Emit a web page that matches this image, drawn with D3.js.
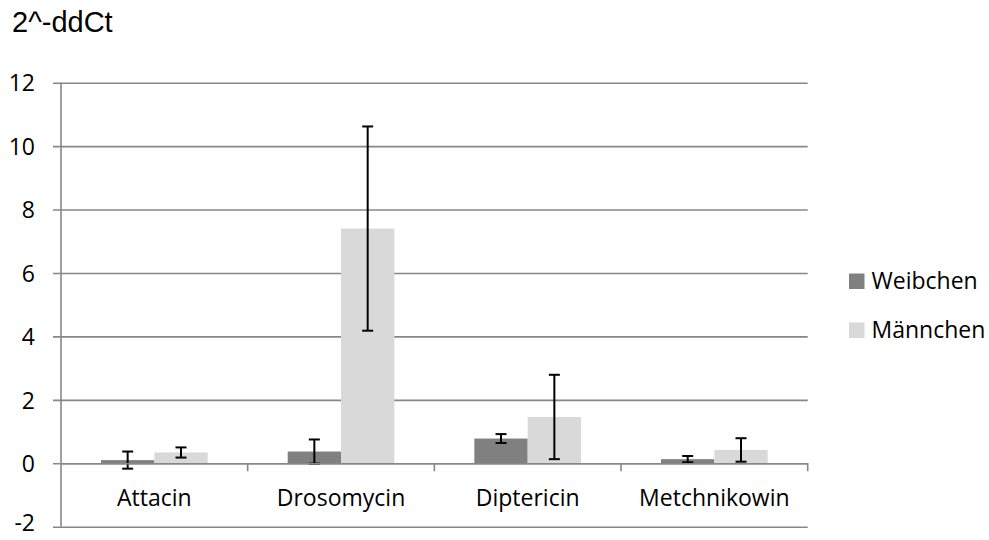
<!DOCTYPE html>
<html><head><meta charset="utf-8">
<script src="https://cdn.jsdelivr.net/npm/d3@7"></script>
<style>body{margin:0;background:#fff}svg{display:block}</style>
</head><body>
<script>
const categories = ["Attacin", "Drosomycin", "Diptericin", "Metchnikowin"];
const seriesNames = ["Weibchen", "Männchen"];
const weibchen = [0.10, 0.37, 0.78, 0.13];
const maennchen = [0.34, 7.40, 1.46, 0.42];
const weibchenErr = [0.27, 0.38, 0.14, 0.10];
const maennchenErr = [0.16, 3.22, 1.33, 0.37];
const yTicks = [-2, 0, 2, 4, 6, 8, 10, 12];
const yTitle = "2^-ddCt";

const W = 989, H = 540;
const mLeft = 61, mRight = 807.7, mTop = 82.7, mBottom = 526.7;
const colors = ["#808080", "#d9d9d9"];
const gridColor = "#878787";
const labelFont = "'Open Sans', sans-serif";
const labelSize = "23px";

const svg = d3.select("body").append("svg").attr("width", W).attr("height", H);

const y = d3.scaleLinear().domain([-2, 12]).range([mBottom, mTop]);
const x0 = d3.scaleBand().domain(categories).range([mLeft, mRight]).paddingInner(0).paddingOuter(0);
const groupW = x0.bandwidth() * (2 / 3.5);
const x1 = d3.scaleBand().domain(seriesNames).range([0, groupW]);

// gridlines
const yAxis = d3.axisLeft(y).tickValues(yTicks).tickSize(-(mRight - mLeft)).tickSizeOuter(0).tickFormat(d => String(d));
const gy = svg.append("g").attr("transform", `translate(${mLeft},0)`).call(yAxis);
gy.select(".domain").remove();
gy.selectAll(".tick line").attr("stroke", gridColor).attr("stroke-width", 1.6).attr("x1", -8);
gy.selectAll(".tick text").attr("x", -26).attr("dy", "0.36em").attr("text-anchor", "end")
  .attr("y", d => d === yTicks[0] ? -4 : 0)
  .style("font-family", labelFont).style("font-size", labelSize).attr("fill", "#000");
// y axis line
svg.append("line").attr("x1", mLeft).attr("x2", mLeft).attr("y1", mTop).attr("y2", mBottom)
  .attr("stroke", gridColor).attr("stroke-width", 1.6);

// bars
const data = categories.map((c, i) => ({cat: c, vals: [
  {s: seriesNames[0], v: weibchen[i], e: weibchenErr[i]},
  {s: seriesNames[1], v: maennchen[i], e: maennchenErr[i]}]}));

const groups = svg.append("g").selectAll("g").data(data).join("g")
  .attr("transform", d => `translate(${x0(d.cat) + (x0.bandwidth() - groupW) / 2},0)`);
groups.selectAll("rect").data(d => d.vals).join("rect")
  .attr("x", d => x1(d.s)).attr("width", x1.bandwidth())
  .attr("y", d => y(Math.max(0, d.v))).attr("height", d => Math.abs(y(d.v) - y(0)))
  .attr("fill", (d, i) => colors[i]);

// category axis at zero
const xAxis = d3.axisBottom(x0).tickSize(0).tickSizeOuter(0);
const gx = svg.append("g").attr("transform", `translate(0,${y(0)})`).call(xAxis);
gx.select(".domain").attr("stroke", gridColor).attr("stroke-width", 1.6);
gx.selectAll(".tick text").attr("y", 34).attr("dy", "0.36em").attr("fill", "#000")
  .style("font-family", labelFont).style("font-size", labelSize);
// boundary tick marks
const bounds = categories.map(c => x0(c)).concat([mRight]);
svg.append("g").selectAll("line").data(bounds.slice(1)).join("line")
  .attr("x1", d => d).attr("x2", d => d).attr("y1", y(0)).attr("y2", y(0) + 8)
  .attr("stroke", gridColor).attr("stroke-width", 1.6);

// error bars
const eg = groups.selectAll("g.err").data(d => d.vals).join("g").attr("class", "err")
  .attr("transform", d => `translate(${x1(d.s) + x1.bandwidth() / 2},0)`);
const cap = 5.5;
eg.append("line").attr("x1", 0).attr("x2", 0).attr("y1", d => y(d.v + d.e)).attr("y2", d => y(d.v - d.e))
  .attr("stroke", "#000").attr("stroke-width", 2);
eg.append("line").attr("x1", -cap).attr("x2", cap).attr("y1", d => y(d.v + d.e)).attr("y2", d => y(d.v + d.e))
  .attr("stroke", "#000").attr("stroke-width", 2);
eg.append("line").attr("x1", -cap).attr("x2", cap).attr("y1", d => y(d.v - d.e)).attr("y2", d => y(d.v - d.e))
  .attr("stroke", "#000").attr("stroke-width", 2);

// title
svg.append("text").attr("x", 12).attr("y", 32).text(yTitle)
  .style("font-family", "'Liberation Sans', Arial, sans-serif").style("font-size", "29px").attr("fill", "#000");

// legend
const leg = svg.append("g").selectAll("g").data(seriesNames).join("g")
  .attr("transform", (d, i) => `translate(849,${273.5 + i * 49})`);
leg.append("rect").attr("width", 15.5).attr("height", 15.5).attr("fill", (d, i) => colors[i]);
leg.append("text").attr("x", 22.5).attr("y", 15).text(d => d).attr("fill", "#000")
  .style("font-family", labelFont).style("font-size", labelSize);
</script>
</body></html>
